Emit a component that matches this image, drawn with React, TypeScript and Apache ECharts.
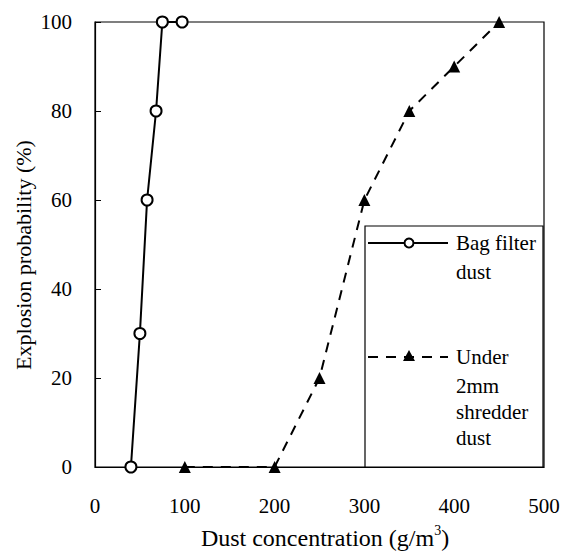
import React, { useEffect, useRef } from "react";
import * as echarts from "echarts";

const xTicks = [0, 100, 200, 300, 400, 500];
const yTicks = [0, 20, 40, 60, 80, 100];
const bagX = [40, 50, 58, 68, 75, 97];
const bagY = [0, 30, 60, 80, 100, 100];
const shredX = [100, 200, 250, 300, 350, 400, 450];
const shredY = [0, 0, 20, 60, 80, 90, 100];
const legendBag = ["Bag filter", "dust"];
const legendShred = ["Under", "2mm", "shredder", "dust"];
const xTitle = "Dust concentration (g/m{sup|3})";
const yTitle = "Explosion probability (%)";

const FONT = "'Liberation Serif', 'Times New Roman', serif";

export default function App() {
  const ref = useRef<HTMLDivElement>(null);
  useEffect(() => {
    if (!ref.current) return;
    const chart = echarts.init(ref.current, null, { renderer: "svg" });
    const gridL = 95, gridT = 22, gridR = 26, gridB = 84;
    const lx = 365, ly = 226, lw = 178, lh = 241;
    const textStyle = { fill: "#000", font: `21px ${FONT}` };
    const bagYs = [243, 272];
    const shredYs = [357, 386, 412, 438];
    const graphic: any[] = [
      { type: "rect", shape: { x: lx, y: ly, width: lw, height: lh }, style: { fill: "#fff", stroke: "#000", lineWidth: 1.2 }, z: 10 },
      { type: "line", shape: { x1: 368, y1: 243, x2: 448, y2: 243 }, style: { stroke: "#000", lineWidth: 2 }, z: 11 },
      { type: "circle", shape: { cx: 409, cy: 243, r: 4.5 }, style: { fill: "#fff", stroke: "#000", lineWidth: 2 }, z: 12 },
      { type: "line", shape: { x1: 368, y1: 357, x2: 448, y2: 357 }, style: { stroke: "#000", lineWidth: 2, lineDash: [10, 8] }, z: 11 },
      { type: "polygon", shape: { points: [[409, 350], [403, 361], [415, 361]] }, style: { fill: "#000" }, z: 12 },
      {
        type: "text",
        x: 325,
        y: 538,
        style: {
          text: xTitle,
          font: `24px ${FONT}`,
          fill: "#000",
          align: "center",
          verticalAlign: "middle",
          rich: { sup: { fontSize: 14, fontFamily: FONT, fill: "#000", padding: [0, 0, 16, 0] } },
        },
        z: 12,
      },
      {
        type: "text",
        x: 23,
        y: 255,
        rotation: Math.PI / 2,
        style: { text: yTitle, font: `22px ${FONT}`, fill: "#000", align: "center", verticalAlign: "middle" },
        z: 12,
      },
    ];
    legendBag.forEach((t, i) =>
      graphic.push({ type: "text", x: 456, y: bagYs[i], style: { ...textStyle, text: t, verticalAlign: "middle" }, z: 12 })
    );
    legendShred.forEach((t, i) =>
      graphic.push({ type: "text", x: 456, y: shredYs[i], style: { ...textStyle, text: t, verticalAlign: "middle" }, z: 12 })
    );
    chart.setOption({
      animation: false,
      backgroundColor: "#fff",
      textStyle: { fontFamily: FONT, color: "#000" },
      grid: { left: gridL, top: gridT, right: gridR, bottom: gridB, show: true, borderColor: "#000", borderWidth: 1.2 },
      xAxis: {
        type: "value",
        min: xTicks[0],
        max: xTicks[xTicks.length - 1],
        interval: 100,
        axisLine: { show: true, lineStyle: { color: "#000", width: 1.2 } },
        axisTick: { show: false },
        splitLine: { show: false },
        axisLabel: { color: "#000", fontSize: 21, fontFamily: FONT, margin: 28 },
      },
      yAxis: {
        type: "value",
        min: yTicks[0],
        max: yTicks[yTicks.length - 1],
        interval: 20,
        axisLine: { show: true, lineStyle: { color: "#000", width: 1.2 } },
        axisTick: { show: true, inside: true, length: 6, lineStyle: { color: "#000" } },
        splitLine: { show: false },
        axisLabel: { color: "#000", fontSize: 21, fontFamily: FONT, margin: 23 },
      },
      series: [
        {
          name: "Bag filter dust",
          type: "line",
          data: bagX.map((x, i) => [x, bagY[i]]),
          symbol: "circle",
          symbolSize: 11,
          lineStyle: { color: "#000", width: 2 },
          itemStyle: { color: "#fff", borderColor: "#000", borderWidth: 2 },
          z: 3,
        },
        {
          name: "Under 2mm shredder dust",
          type: "line",
          data: shredX.map((x, i) => [x, shredY[i]]),
          symbol: "triangle",
          symbolSize: 12,
          lineStyle: { color: "#000", width: 2, type: [10, 8] },
          itemStyle: { color: "#000" },
          z: 2,
        },
      ],
      graphic,
    });
    return () => chart.dispose();
  }, []);
  return <div ref={ref} style={{ width: 570, height: 551, position: "absolute", left: 0, top: 0 }} />;
}
